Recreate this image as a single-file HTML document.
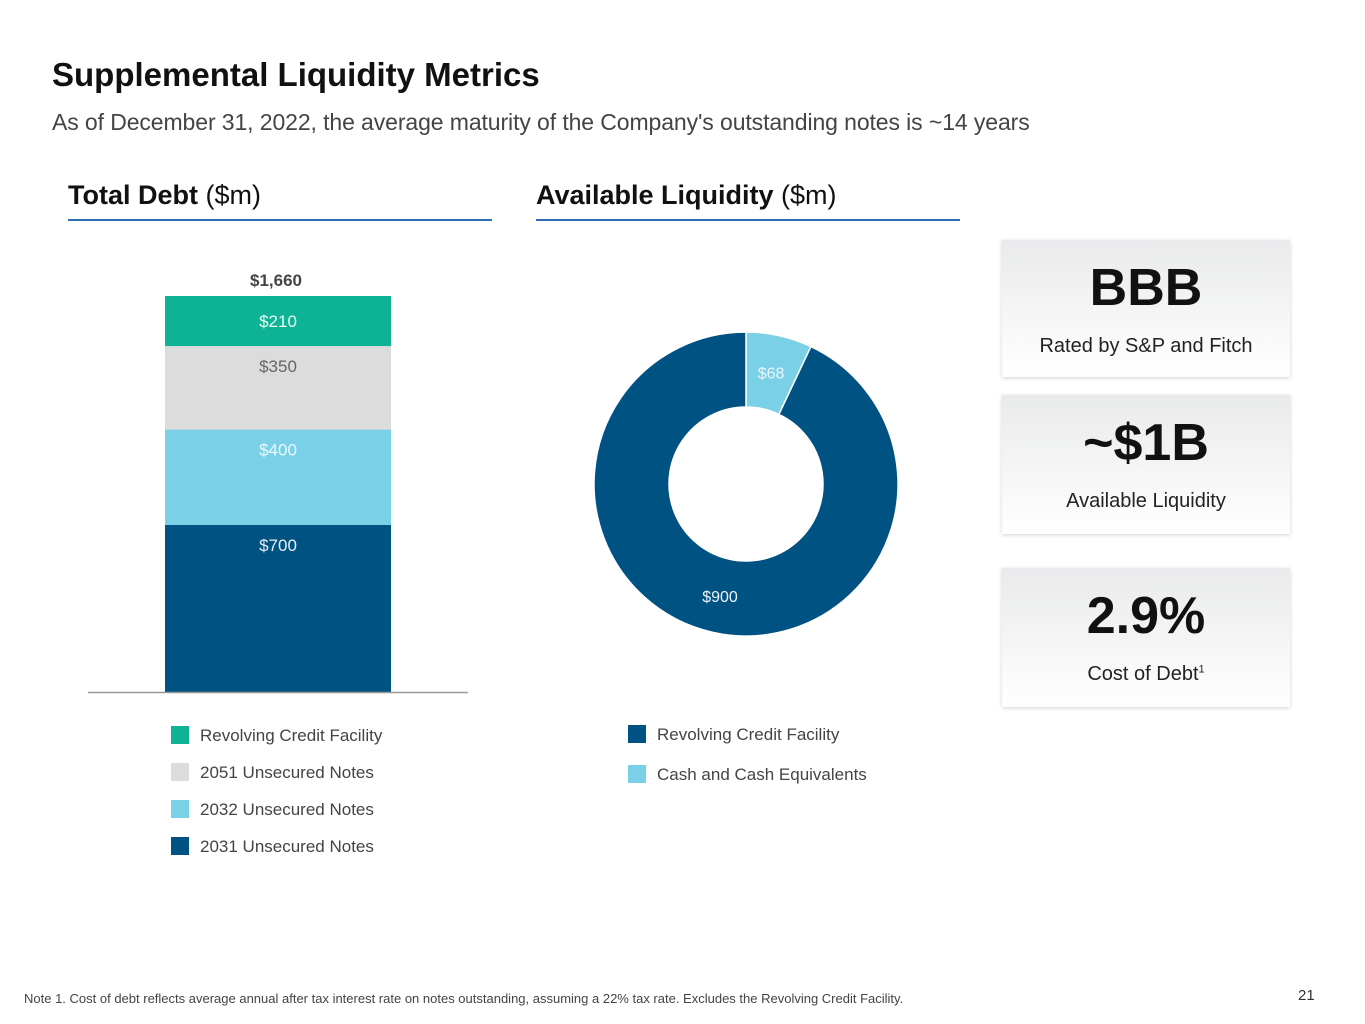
<!DOCTYPE html>
<html><head><meta charset="utf-8"><style>
body{margin:0;width:1365px;height:1024px;background:#fff;font-family:"Liberation Sans",sans-serif;position:relative;overflow:hidden;color:#222}
.abs{position:absolute}
.card{position:absolute;left:1002px;width:288px;background:linear-gradient(#e9eaeb,#fff);box-shadow:0 1px 4px rgba(0,0,0,0.18);text-align:center}
.card .big{font-weight:bold;font-size:52px;color:#111;margin-top:18px;line-height:60px}
.card .sub{font-size:20px;color:#222;margin-top:17px}
.leg{position:absolute;font-size:17px;color:#444}
.leg span{display:inline-block;width:18px;height:18px;vertical-align:-3px;margin-right:11px}
</style></head><body>
<div class="abs" style="left:52px;top:56px;font-size:33px;font-weight:bold;color:#111">Supplemental Liquidity Metrics</div>
<div class="abs" style="left:52px;top:109px;font-size:23px;color:#444;letter-spacing:-0.1px">As of December 31, 2022, the average maturity of the Company's outstanding notes is ~14 years</div>
<div class="abs" style="left:68px;top:180px;font-size:27px;color:#111;width:424px;border-bottom:2px solid #2f6db5;padding-bottom:8px"><b>Total Debt</b> ($m)</div>
<div class="abs" style="left:536px;top:180px;font-size:27px;color:#111;width:424px;border-bottom:2px solid #2f6db5;padding-bottom:8px"><b>Available Liquidity</b> ($m)</div>
<svg id="chart" class="abs" style="left:0;top:0" width="1000" height="720"></svg>
<div class="leg" style="left:171px;top:726px"><span style="background:#0db394"></span>Revolving Credit Facility</div>
<div class="leg" style="left:171px;top:763px"><span style="background:#dcdcdc"></span>2051 Unsecured Notes</div>
<div class="leg" style="left:171px;top:800px"><span style="background:#7ad0e6"></span>2032 Unsecured Notes</div>
<div class="leg" style="left:171px;top:837px"><span style="background:#005282"></span>2031 Unsecured Notes</div>
<div class="leg" style="left:628px;top:725px"><span style="background:#005282"></span>Revolving Credit Facility</div>
<div class="leg" style="left:628px;top:765px"><span style="background:#7ad0e6"></span>Cash and Cash Equivalents</div>
<div class="card" style="top:240px;height:137px"><div class="big">BBB</div><div class="sub">Rated by S&amp;P and Fitch</div></div>
<div class="card" style="top:395px;height:139px"><div class="big">~$1B</div><div class="sub">Available Liquidity</div></div>
<div class="card" style="top:568px;height:139px"><div class="big">2.9%</div><div class="sub">Cost of Debt<sup style="font-size:11px">1</sup></div></div>
<div class="abs" style="left:24px;top:991px;font-size:13px;color:#444">Note 1. Cost of debt reflects average annual after tax interest rate on notes outstanding, assuming a 22% tax rate. Excludes the Revolving Credit Facility.</div>
<div class="abs" style="left:1298px;top:987px;font-size:15px;color:#333">21</div>
<script>
const debtCategories=["2031 Unsecured Notes","2032 Unsecured Notes","2051 Unsecured Notes","Revolving Credit Facility"];
const debtValues=[700,400,350,210];
const debtColors=["#005282","#7ad0e6","#dcdcdc","#0db394"];
const debtLabelColors=["#e8eef5","#eef8fb","#666","#eafaf5"];
const liqCategories=["Cash and Cash Equivalents","Revolving Credit Facility"];
const liqValues=[68,900];
const liqColors=["#7ad0e6","#005282"];
const NS="http://www.w3.org/2000/svg";
const svg=document.getElementById('chart');
function mk(t,a){const e=document.createElementNS(NS,t);for(const k in a)e.setAttribute(k,a[k]);svg.appendChild(e);return e;}
const total=debtValues.reduce((a,b)=>a+b,0);
const base=692,plotH=396;
const y=v=>base-v/total*plotH;
let cum=0;
debtValues.forEach((v,i)=>{
  const r=mk('rect',{x:165,y:y(cum+v),width:226,height:y(cum)-y(cum+v),fill:debtColors[i]});
  
  
  const t=mk('text',{x:278,y:(i===3?(y(cum)+y(cum+v))/2+6:y(cum+v)+26),'text-anchor':'middle','font-size':17,fill:debtLabelColors[i]});
  t.textContent='$'+v;
  
  
  cum+=v;
});
const tt=mk('text',{x:276,y:y(total)-10,'text-anchor':'middle','font-size':17,'font-weight':'bold',fill:'#444'});
tt.textContent='$'+total.toLocaleString('en-US');


const bl=mk('line',{x1:88,x2:468,y1:base+0.5,y2:base+0.5,stroke:'#999','stroke-width':1.5});


const cx=746,cy=484,R=152,r0=77;
const lt=liqValues.reduce((a,b)=>a+b,0);
let a0=0;
liqValues.forEach((v,i)=>{
  const a1=a0+v/lt*2*Math.PI;
  const p=(a,rr)=>[cx+rr*Math.sin(a),cy-rr*Math.cos(a)];
  const [x1,y1]=p(a0,R),[x2,y2]=p(a1,R),[x3,y3]=p(a1,r0),[x4,y4]=p(a0,r0);
  const lg=(a1-a0)>Math.PI?1:0;
  const s=mk('path',{d:`M${x1},${y1}A${R},${R} 0 ${lg} 1 ${x2},${y2}L${x3},${y3}A${r0},${r0} 0 ${lg} 0 ${x4},${y4}Z`,fill:liqColors[i],stroke:'#fff','stroke-width':1.5});
  
  
  const mid=(a0+a1)/2;const [lx,ly]=p(mid,(R+r0)/2);
  const t=mk('text',{x:(i===1?720:lx),y:(i===1?602:ly+6),'text-anchor':'middle','font-size':16,fill:'#eef6fb'});
  t.textContent='$'+v;
  
  
  a0=a1;
});
</script>
</body></html>
